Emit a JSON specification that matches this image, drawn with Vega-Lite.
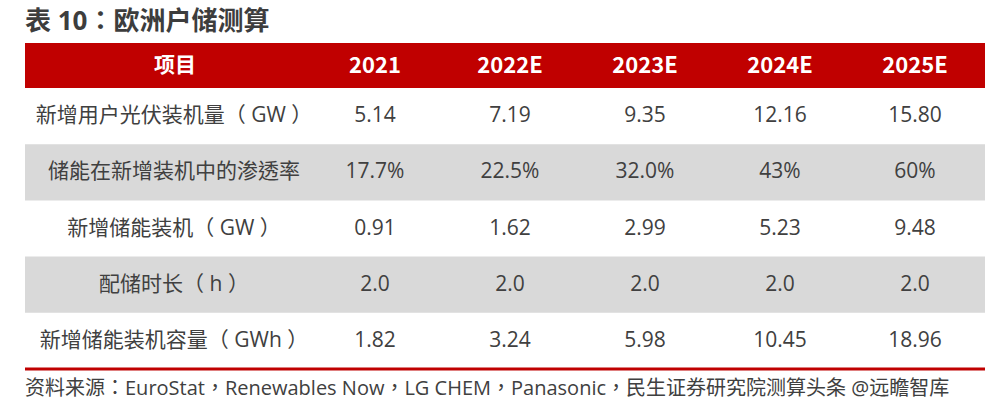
{
  "$schema": "https://vega.github.io/schema/vega-lite/v6.json",
  "autosize": {"type": "pad"},
  "padding": {"left": 23, "top": 9, "right": 23, "bottom": 5},
  "background": "white",
  "title": {
    "text": "表 10：欧洲户储测算",
    "anchor": "start",
    "frame": "group",
    "fontSize": 26,
    "fontWeight": "bold",
    "font": "Open Sans, Noto Sans CJK TC",
    "color": "#3d3d3d",
    "offset": 8
  },
  "datasets": {
    "header": [
      {"col": "项目"}, {"col": "2021"}, {"col": "2022E"}, {"col": "2023E"}, {"col": "2024E"}, {"col": "2025E"}
    ],
    "rows": [
      {"row": 1, "item": "新增用户光伏装机量（ GW ）"},
      {"row": 2, "item": "储能在新增装机中的渗透率"},
      {"row": 3, "item": "新增储能装机（ GW ）"},
      {"row": 4, "item": "配储时长（ h ）"},
      {"row": 5, "item": "新增储能装机容量（ GWh ）"}
    ],
    "cells": [
      {"row": 1, "year": "2021", "value": "5.14"},
      {"row": 1, "year": "2022E", "value": "7.19"},
      {"row": 1, "year": "2023E", "value": "9.35"},
      {"row": 1, "year": "2024E", "value": "12.16"},
      {"row": 1, "year": "2025E", "value": "15.80"},
      {"row": 2, "year": "2021", "value": "17.7%"},
      {"row": 2, "year": "2022E", "value": "22.5%"},
      {"row": 2, "year": "2023E", "value": "32.0%"},
      {"row": 2, "year": "2024E", "value": "43%"},
      {"row": 2, "year": "2025E", "value": "60%"},
      {"row": 3, "year": "2021", "value": "0.91"},
      {"row": 3, "year": "2022E", "value": "1.62"},
      {"row": 3, "year": "2023E", "value": "2.99"},
      {"row": 3, "year": "2024E", "value": "5.23"},
      {"row": 3, "year": "2025E", "value": "9.48"},
      {"row": 4, "year": "2021", "value": "2.0"},
      {"row": 4, "year": "2022E", "value": "2.0"},
      {"row": 4, "year": "2023E", "value": "2.0"},
      {"row": 4, "year": "2024E", "value": "2.0"},
      {"row": 4, "year": "2025E", "value": "2.0"},
      {"row": 5, "year": "2021", "value": "1.82"},
      {"row": 5, "year": "2022E", "value": "3.24"},
      {"row": 5, "year": "2023E", "value": "5.98"},
      {"row": 5, "year": "2024E", "value": "10.45"},
      {"row": 5, "year": "2025E", "value": "18.96"}
    ]
  },
  "spacing": 0,
  "vconcat": [
    {
      "width": 960,
      "height": 45,
      "data": {"name": "header"},
      "layer": [
        {
          "mark": {"type": "rect", "color": "#C00000"},
          "encoding": {}
        },
        {
          "transform": [{"filter": "datum.col !== '项目'"}],
          "mark": {"type": "text", "color": "white", "fontWeight": "bold", "fontSize": 22, "font": "Noto Sans CJK SC"},
          "encoding": {
            "x": {"field": "col", "type": "ordinal", "axis": null,
                  "scale": {"type": "point", "domain": ["项目", "2021", "2022E", "2023E", "2024E", "2025E"], "range": [215, 890], "padding": 0}},
            "text": {"field": "col"}
          }
        },
        {
          "transform": [{"filter": "datum.col === '项目'"}],
          "mark": {"type": "text", "color": "white", "fontWeight": "bold", "fontSize": 21, "font": "Noto Sans CJK SC", "dx": -65},
          "encoding": {
            "x": {"field": "col", "type": "ordinal", "axis": null},
            "text": {"field": "col"}
          }
        }
      ]
    },
    {
      "width": 960,
      "height": 281,
      "title": {
        "text": "资料来源：EuroStat，Renewables Now，LG CHEM，Panasonic，民生证券研究院测算头条 @远瞻智库",
        "orient": "bottom",
        "anchor": "start",
        "frame": "group",
        "fontSize": 20,
        "fontWeight": "normal",
        "font": "Open Sans, Noto Sans CJK TC",
        "color": "#404040",
        "offset": 8
      },
      "layer": [
        {
          "data": {"name": "rows"},
          "transform": [{"filter": "datum.row % 2 === 0"}],
          "mark": {"type": "rect", "color": "#D9D9D9"},
          "encoding": {
            "y": {"field": "row", "type": "ordinal", "axis": null,
                  "scale": {"domain": [1, 2, 3, 4, 5], "paddingInner": 0, "paddingOuter": 0}}
          }
        },
        {
          "data": {"name": "rows"},
          "mark": {"type": "text", "color": "#404040", "fontSize": 21, "font": "Open Sans, Noto Sans CJK TC", "dx": -66},
          "encoding": {
            "x": {"datum": "项目", "type": "ordinal", "axis": null,
                  "scale": {"type": "point", "domain": ["项目", "2021", "2022E", "2023E", "2024E", "2025E"], "range": [215, 890], "padding": 0}},
            "y": {"field": "row", "type": "ordinal", "axis": null},
            "text": {"field": "item"}
          }
        },
        {
          "data": {"name": "cells"},
          "mark": {"type": "text", "color": "#404040", "fontSize": 21, "font": "Open Sans"},
          "encoding": {
            "x": {"field": "year", "type": "ordinal", "axis": null},
            "y": {"field": "row", "type": "ordinal", "axis": null},
            "text": {"field": "value"}
          }
        },
        {
          "data": {"values": [{"edge": 5}]},
          "mark": {"type": "rule", "color": "#C00000", "strokeWidth": 3},
          "encoding": {
            "y": {"field": "edge", "type": "ordinal", "bandPosition": 1, "axis": null}
          }
        }
      ]
    }
  ],
  "config": {
    "view": {"stroke": null}
  }
}
